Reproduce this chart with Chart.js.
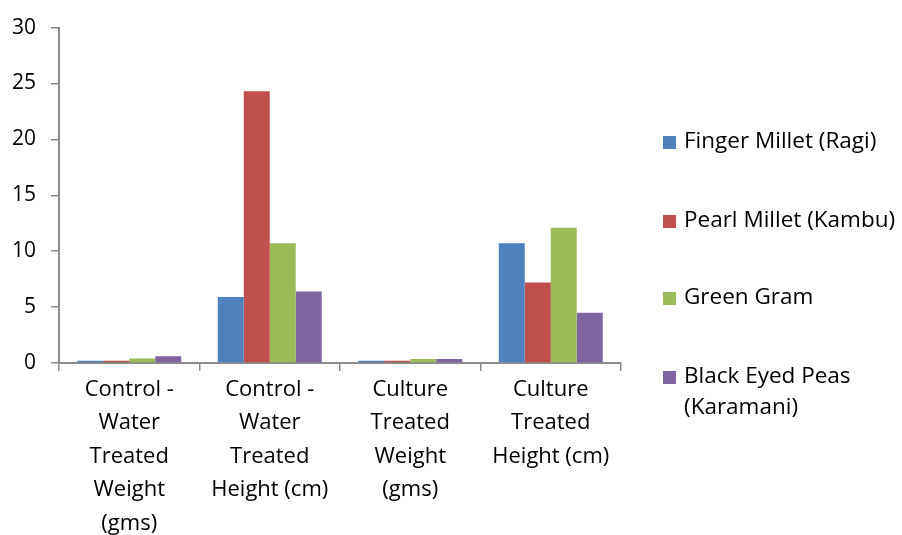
<!DOCTYPE html>
<html>
<head>
<meta charset="utf-8">
<script src="https://cdn.jsdelivr.net/npm/chart.js@4.4.1/dist/chart.umd.min.js"></script>
<style>
  html, body { margin: 0; padding: 0; background: #ffffff; }
  #wrap { width: 902px; height: 535px; }
</style>
</head>
<body>
<div id="wrap"><canvas id="chart" width="902" height="535"></canvas></div>
<script>
// Measurement groups along the x axis (multi-line labels)
const categories = [
  ["Control -", "Water", "Treated", "Weight", "(gms)"],
  ["Control -", "Water", "Treated", "Height (cm)"],
  ["Culture", "Treated", "Weight", "(gms)"],
  ["Culture", "Treated", "Height (cm)"]
];

// One series per crop
const fingerMillet = [0.2, 5.9, 0.2, 10.7];
const pearlMillet  = [0.2, 24.3, 0.2, 7.2];
const greenGram    = [0.4, 10.7, 0.35, 12.1];
const blackEyedPeas = [0.6, 6.4, 0.35, 4.5];

const seriesNames = [
  ["Finger Millet (Ragi)"],
  ["Pearl Millet (Kambu)"],
  ["Green Gram"],
  ["Black Eyed Peas", "(Karamani)"]
];
const seriesColors = ["#4F81BD", "#C0504D", "#9BBB59", "#8064A2"];

const yTicks = [0, 5, 10, 15, 20, 25, 30];

const FONT = "'Open Sans', Lato, sans-serif";
const AXIS_GREY = "#8c8c8c";

// Legend drawn at the right of the plot, one entry per dataset
const sideLegend = {
  id: "sideLegend",
  afterDraw(chart) {
    const ctx = chart.ctx;
    const x0 = chart.chartArea.right + 42;
    const rows = [142, 221, 298, 377];
    ctx.save();
    ctx.font = "22.5px " + FONT;
    ctx.textBaseline = "middle";
    ctx.textAlign = "left";
    chart.data.datasets.forEach((ds, i) => {
      const y = rows[i];
      ctx.fillStyle = ds.backgroundColor;
      ctx.fillRect(x0, y - 6, 13, 13);
      ctx.fillStyle = "#000000";
      ds.legendLines.forEach((line, j) => {
        ctx.fillText(line, x0 + 21, y + j * 31);
      });
    });
    ctx.restore();
  }
};

const datasets = [fingerMillet, pearlMillet, greenGram, blackEyedPeas].map((vals, i) => ({
  label: seriesNames[i].join(" "),
  legendLines: seriesNames[i],
  data: vals,
  backgroundColor: seriesColors[i],
  borderWidth: 0,
  categoryPercentage: 0.74,
  barPercentage: 1.0
}));

new Chart(document.getElementById("chart"), {
  type: "bar",
  data: { labels: categories, datasets: datasets },
  options: {
    responsive: false,
    animation: false,
    devicePixelRatio: 1,
    layout: { padding: { top: 24, right: 281, bottom: 0, left: 0 } },
    plugins: {
      legend: { display: false },
      tooltip: { enabled: false }
    },
    scales: {
      x: {
        offset: true,
        afterFit(scale) { scale.height = 172; },
        grid: {
          display: true,
          offset: true,
          drawOnChartArea: false,
          drawTicks: true,
          tickLength: 8,
          color: AXIS_GREY,
          lineWidth: 1.5
        },
        border: { display: true, color: AXIS_GREY, width: 2 },
        ticks: {
          color: "#000000",
          maxRotation: 0,
          autoSkip: false,
          padding: 2,
          font: { family: FONT, size: 22, lineHeight: 1.52 }
        }
      },
      y: {
        min: 0,
        max: 30,
        afterFit(scale) { scale.width = 59; },
        afterBuildTicks(scale) { scale.ticks = yTicks.map(v => ({ value: v })); },
        grid: {
          display: true,
          drawOnChartArea: false,
          drawTicks: true,
          tickLength: 8,
          color: AXIS_GREY,
          lineWidth: 1.5
        },
        border: { display: true, color: AXIS_GREY, width: 2 },
        ticks: {
          color: "#000000",
          padding: 15,
          font: { family: FONT, size: 21 }
        }
      }
    }
  },
  plugins: [sideLegend]
});
</script>
</body>
</html>
